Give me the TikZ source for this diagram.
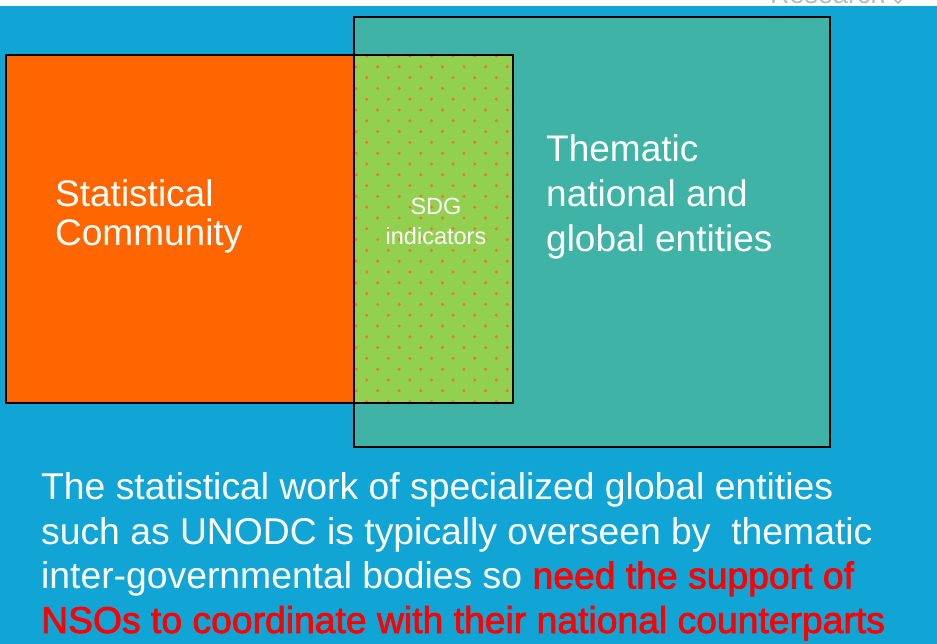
\documentclass[tikz,border=0pt]{standalone}
\usepackage{fontspec}
\setmainfont{Liberation Sans}
\newfontfamily\heavyfont[FakeBold=2]{Liberation Sans}

\definecolor{bgblue}{HTML}{11A5D6}
\definecolor{statorange}{HTML}{FF6600}
\definecolor{thematicteal}{HTML}{3FB3A5}
\definecolor{sdggreen}{HTML}{92D050}
\definecolor{dotorange}{HTML}{F2742C}
\definecolor{logogray}{HTML}{B4BCC4}

\begin{document}
\begin{tikzpicture}[
    x=1pt, y=-1pt,
    box/.style={draw=black, line width=1.2pt},
    big_text/.style={text=white, anchor=base west, align=left, inner sep=0pt, font=\fontsize{37}{45}\selectfont},
    small_text/.style={text=white, anchor=base, align=center, inner sep=0pt, font=\fontsize{23.5}{30}\selectfont},
    note_text/.style={text=white, anchor=base west, align=left, inner sep=0pt, font=\fontsize{37.3}{44.5}\selectfont}
]
    \useasboundingbox (0,0) rectangle (937,644);
    \fill[white] (0,0) rectangle (937,644);
    \node[logogray, anchor=base west, inner sep=0pt, font=\fontsize{27}{30}\selectfont] (logo) at (770,4) {Research};
    \draw[logogray, line width=1.5pt] (892,-3) -- (898,3) -- (904,-3);
    \fill[bgblue] (0,6) rectangle (937,644);

    % the two groups and their overlap
    \fill[thematicteal] (354,17) rectangle (830,447);
    \fill[statorange] (6,55) rectangle (513,403);
    \fill[sdggreen] (354,55) rectangle (513,403);
    \begin{scope}
        \clip (354,55) rectangle (513,403);
        \foreach \r in {0,...,32}
            \foreach \c in {0,...,7}
                \fill[dotorange] ({356+21.6*\c+10.7*mod(\r+1,2)},{56+10.8*\r}) circle (1.7);
    \end{scope}
    \draw[box] (354,17) rectangle (830,447);
    \draw[box] (6,55) rectangle (513,403);

    % labels (base anchor sits on the last line)
    \node[big_text, font=\fontsize{37}{39}\selectfont] (SC) at (55,246) {Statistical\\Community};
    \node[big_text] (TE) at (546,252) {Thematic\\national and\\global entities};
    \node[small_text] (SDG) at (436,245) {SDG\\indicators};

    \node[note_text] (note) at (41,633) {The statistical work of specialized global entities\\
        such as UNODC is typically overseen by\ \ thematic\\
        inter-governmental bodies so {\heavyfont\color{red}need the support of}\\
        {\heavyfont\color{red}NSOs to coordinate with their national counterparts}};
\end{tikzpicture}
\end{document}
